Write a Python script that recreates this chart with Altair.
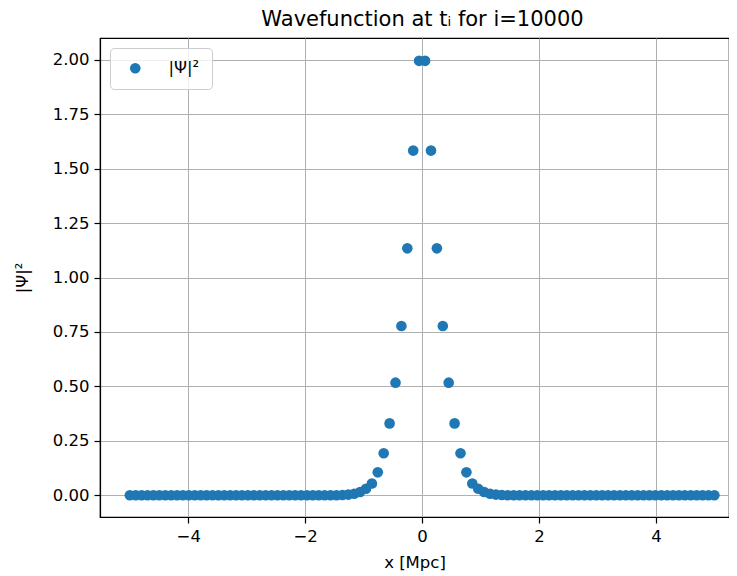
import altair as alt
import pandas as pd

# x grid (Mpc)
x_vals = [
    -5.000, -4.899, -4.798, -4.697, -4.596, -4.495, -4.394, -4.293, -4.192, -4.091,
    -3.990, -3.889, -3.788, -3.687, -3.586, -3.485, -3.384, -3.283, -3.182, -3.081,
    -2.980, -2.879, -2.778, -2.677, -2.576, -2.475, -2.374, -2.273, -2.172, -2.071,
    -1.970, -1.869, -1.768, -1.667, -1.566, -1.465, -1.364, -1.263, -1.162, -1.061,
    -0.960, -0.859, -0.758, -0.657, -0.556, -0.455, -0.354, -0.253, -0.152, -0.051,
    0.051, 0.152, 0.253, 0.354, 0.455, 0.556, 0.657, 0.758, 0.859, 0.960,
    1.061, 1.162, 1.263, 1.364, 1.465, 1.566, 1.667, 1.768, 1.869, 1.970,
    2.071, 2.172, 2.273, 2.374, 2.475, 2.576, 2.677, 2.778, 2.879, 2.980,
    3.081, 3.182, 3.283, 3.384, 3.485, 3.586, 3.687, 3.788, 3.889, 3.990,
    4.091, 4.192, 4.293, 4.394, 4.495, 4.596, 4.697, 4.798, 4.899, 5.000,
]

# |Psi|^2 values
psi2_vals = [
    0.0, 0.0, 0.0, 0.0, 0.0, 0.0, 0.0, 0.0, 0.0, 0.0,
    0.0, 0.0, 0.0, 0.0, 0.0, 0.0, 0.0, 0.0, 0.0, 0.0,
    0.0, 0.0, 0.0, 0.0, 0.0, 0.0, 0.0, 0.0, 0.0, 0.0,
    0.0, 0.0, 0.0, 0.0, 0.0, 0.0, 0.001, 0.003, 0.007, 0.015,
    0.030, 0.054, 0.105, 0.193, 0.330, 0.517, 0.777, 1.134, 1.583, 1.995,
    1.995, 1.583, 1.134, 0.777, 0.517, 0.330, 0.193, 0.105, 0.054, 0.030,
    0.015, 0.007, 0.003, 0.001, 0.0, 0.0, 0.0, 0.0, 0.0, 0.0,
    0.0, 0.0, 0.0, 0.0, 0.0, 0.0, 0.0, 0.0, 0.0, 0.0,
    0.0, 0.0, 0.0, 0.0, 0.0, 0.0, 0.0, 0.0, 0.0, 0.0,
    0.0, 0.0, 0.0, 0.0, 0.0, 0.0, 0.0, 0.0, 0.0, 0.0,
]

series_label = "|Ψ|²"
x_ticks = [-4, -2, 0, 2, 4]
y_ticks = [0.0, 0.25, 0.5, 0.75, 1.0, 1.25, 1.5, 1.75, 2.0]

df = pd.DataFrame({
    "x": x_vals,
    "psi2": psi2_vals,
    "series": [series_label] * len(x_vals),
})

FONT = "DejaVu Sans"
FS = 16.5

chart = (
    alt.Chart(df)
    .mark_circle(size=113, opacity=1)
    .encode(
        x=alt.X(
            "x:Q",
            scale=alt.Scale(domain=[-5.51, 5.25], nice=False, zero=False),
            axis=alt.Axis(values=x_ticks, format="d", title="x [Mpc]",
                          titlePadding=10),
        ),
        y=alt.Y(
            "psi2:Q",
            scale=alt.Scale(domain=[-0.1, 2.1], nice=False, zero=False),
            axis=alt.Axis(values=y_ticks, format=".2f", title=series_label,
                          titlePadding=22),
        ),
        color=alt.Color(
            "series:N",
            scale=alt.Scale(range=["#1f77b4"]),
            legend=alt.Legend(
                title=None,
                orient="none",
                legendX=10,
                legendY=10,
                padding=12,
                symbolOffset=5,
                labelOffset=25,
                strokeColor="#cccccc",
                fillColor="rgba(255,255,255,0.8)",
                cornerRadius=4,
                symbolType="circle",
                symbolSize=113,
                symbolStrokeWidth=0,
                symbolOpacity=1,
                labelFontSize=FS,
                labelFont=FONT,
                labelColor="black",
                zindex=2,
            ),
        ),
    )
    .properties(
        width=629,
        height=479,
        title=alt.TitleParams(
            text="Wavefunction at tᵢ for i=10000",
            font=FONT,
            fontSize=21,
            fontWeight="normal",
            color="black",
            anchor="middle",
            frame="group",
            dx=8,
            offset=8,
        ),
        autosize=alt.AutoSizeParams(type="none"),
        padding={"left": 92, "top": 30, "right": 0, "bottom": 58},
    )
    .configure_view(stroke="black", strokeWidth=1.2)
    .configure_axis(
        domainColor="black",
        domainWidth=1.2,
        tickColor="black",
        tickWidth=1.2,
        tickSize=6,
        labelFont=FONT,
        labelFontSize=FS,
        labelColor="black",
        labelPadding=5,
        titleFont=FONT,
        titleFontSize=FS,
        titleFontWeight="normal",
        titleColor="black",
        gridColor="#b0b0b0",
        gridWidth=1,
        grid=True,
        zindex=1,
    )
)

chart.save("out.html", embed_options={"renderer": "svg", "actions": False})
